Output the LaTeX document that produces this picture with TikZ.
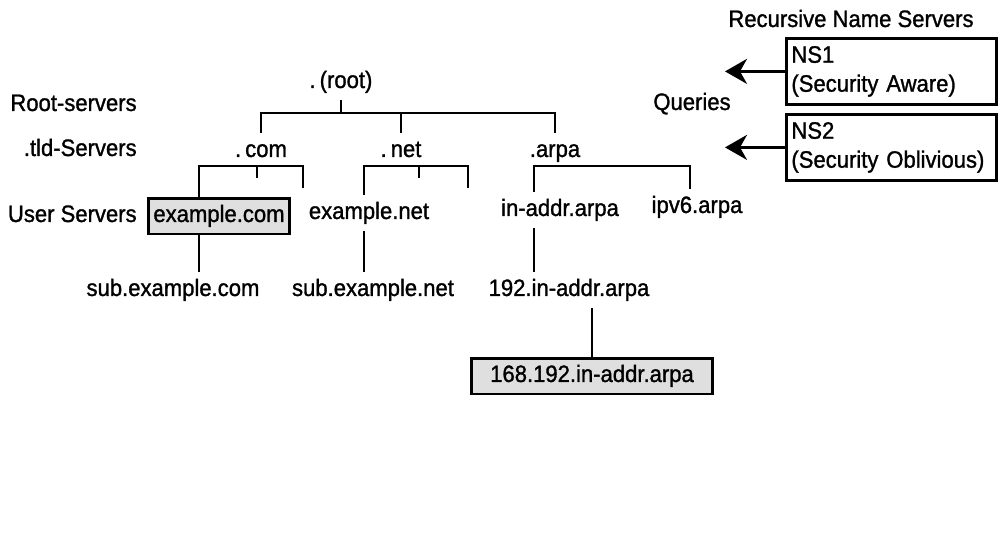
\documentclass[tikz,border=0pt]{standalone}
\usepackage{fontspec}
\setmainfont{Liberation Sans}[FakeStretch=0.93, FakeBold=1.2]
\usepackage{tikz}
\usetikzlibrary{arrows.meta}

\begin{document}
\begin{tikzpicture}[x=0.02cm, y=-0.02cm,
		every node/.style={font=\fontsize{13.5}{16.5}\selectfont},
		dom/.style={anchor=base, inner xsep=1pt, inner ysep=3.4pt, text height=10.1pt, text depth=3.4pt},
		zone/.style={dom, draw, line width=1.6pt, fill=gray!25, inner xsep=3pt},
		tier/.style={anchor=base east, inner sep=0pt},
		nsbox/.style={draw, line width=1.6pt, anchor=north west, align=left, text width=4.0cm, inner xsep=0.1cm, minimum height=1.32cm},
		branch/.style={line width=1.6pt},
		query/.style={line width=1.7pt, -{Stealth[length=0.44cm, width=0.5cm, inset=0.14cm]}}]
			% \draw[very thin, gray, dashed](0, 0)grid[step=50](1004, 546);
			\useasboundingbox (0, 0) rectangle (1004, 546);

			\node[tier] (lroot) at (137, 111) {Root-servers};
			\node[tier] (ltld) at (137, 156) {.tld-Servers};
			\node[tier] (luser) at (137, 222) {User Servers};

			\node[dom] (root) at (341, 88) {.\,(root)};
			\node[dom] (com) at (261, 157) {.\,com};
			\node[dom] (net) at (401, 157) {.\,net};
			\node[dom] (arpa) at (555, 157) {.arpa};

			\node[zone] (excom) at (219, 222) {example.com};
			\node[dom] (exnet) at (369, 219) {example.net};
			\node[dom] (inaddr) at (560, 216) {in-addr.arpa};
			\node[dom] (ipv6) at (697, 213) {ipv6.arpa};

			\node[dom] (subcom) at (173, 296) {sub.example.com};
			\node[dom] (subnet) at (373, 296) {sub.example.net};
			\node[dom] (in192) at (569, 296) {192.in-addr.arpa};
			\node[zone, minimum width=4.82cm] (rev168) at (592, 382) {168.192.in-addr.arpa};

			\node[dom] (rns) at (851, 27) {Recursive Name Servers};
			\node[dom] (queries) at (692, 110) {Queries};
			\node[nsbox] (ns1) at (785, 37) {NS1\\(Security Aware)};
			\node[nsbox] (ns2) at (785, 113) {NS2\\(Security Oblivious)};

			\coordinate (rootbar) at (343, 113);
			\coordinate (comL) at (199, 166);
			\coordinate (comM) at (257, 166);
			\coordinate (comR) at (303, 166);
			\coordinate (netL) at (364, 166);
			\coordinate (netM) at (419, 166);
			\coordinate (netR) at (468, 166);
			\coordinate (arpaL) at (534, 166);
			\coordinate (arpaR) at (690, 166);
			\coordinate (q1) at (725, 68);
			\coordinate (q2) at (725, 145);

			\draw[branch] (root.south)--(root.south |- rootbar);
			\draw[branch] (com.north)--(com.north |- rootbar)--(arpa.north |- rootbar)--(arpa.north);
			\draw[branch] (net.north)--(net.north |- rootbar);

			\draw[branch] (excom.north -| comL)--(comL)--(comR)--++(0, 22);
			\draw[branch] (comM)--++(0, 12);
			\draw[branch] (exnet.north -| netL)--(netL)--(netR)--++(0, 22);
			\draw[branch] (netM)--++(0, 12);
			\draw[branch] (inaddr.north -| arpaL)--(arpaL)--(arpaR)--(ipv6.north -| arpaR);

			\draw[branch] (excom.south -| comL)--(subcom.north -| comL);
			\draw[branch] (exnet.south -| netL)--(subnet.north -| netL);
			\draw[branch] (inaddr.south -| arpaL)--(in192.north -| arpaL);
			\draw[branch] (in192.south -| rev168.north)--(rev168.north);

			\draw[query] (ns1.west)--(q1 |- ns1.west);
			\draw[query] (ns2.west)--(q2 |- ns2.west);
		\end{tikzpicture}
\end{document}
